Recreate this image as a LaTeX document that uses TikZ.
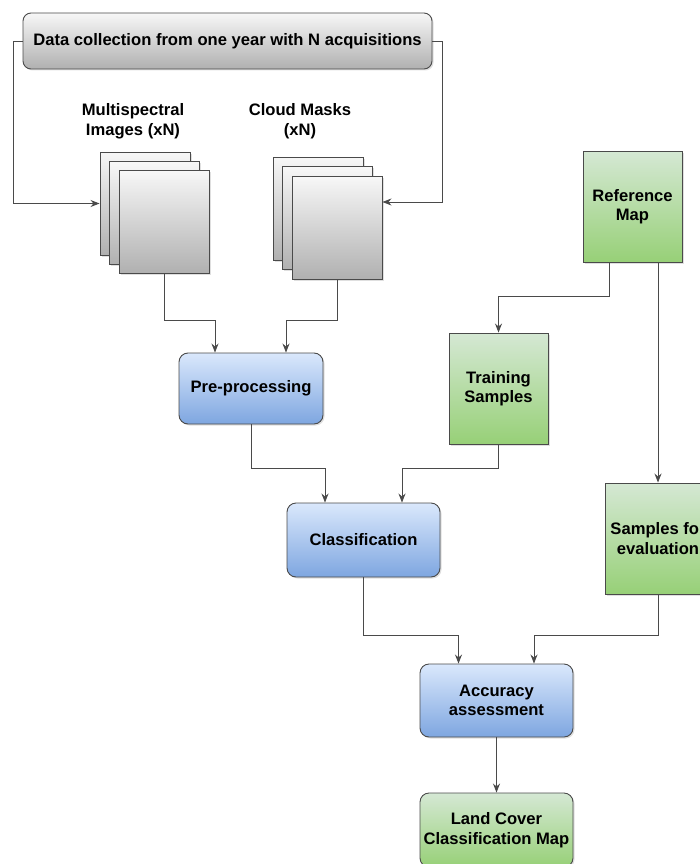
\documentclass[tikz,border=0pt]{standalone}
\usepackage{fontspec}
\setmainfont{Liberation Sans}
\usetikzlibrary{arrows.meta,shadows}

\definecolor{grayTop}{HTML}{F7F7F7}
\definecolor{grayBot}{HTML}{B0B0B0}
\definecolor{blueTop}{HTML}{DAE8FC}
\definecolor{blueBot}{HTML}{7EA6E0}
\definecolor{greenTop}{HTML}{D5E8D4}
\definecolor{greenBot}{HTML}{97D077}
\definecolor{edgeGray}{HTML}{4A4A4A}

\tikzset{
  box/.style={draw=edgeGray, line width=0.9pt, align=center, inner sep=2pt,
    font=\fontsize{16.6}{19.5}\selectfont\bfseries,
    drop shadow={shadow xshift=1.5pt, shadow yshift=-1.5pt, opacity=0.25}},
  graybox/.style={box, top color=grayTop, bottom color=grayBot},
  bluebox/.style={box, rounded corners=9pt, top color=blueTop, bottom color=blueBot},
  greenbox/.style={box, top color=greenTop, bottom color=greenBot},
  arr/.style={draw=edgeGray, line width=0.9pt, -{Stealth[length=9pt,width=7pt]}},
  lbl/.style={align=center, font=\fontsize{16.6}{20}\selectfont\bfseries}
}

\begin{document}
\begin{tikzpicture}[x=1pt,y=-1pt]
    \clip (0,0) rectangle (700,864);

    \node[graybox,rounded corners=8pt,minimum width=409,minimum height=56] (data) at (227.5,41) {Data collection from one year with N acquisitions};

    \node[lbl] (msL) at (133,121) {Multispectral\\Images (xN)};
    \node[lbl] (cmL) at (300,121) {Cloud Masks\\(xN)};

    \begin{scope}[every node/.style={graybox,minimum width=90,minimum height=103}]
      \node (ms1) at (145  ,203.5) {};
      \node (ms2) at (154  ,213  ) {};
      \node (ms3) at (164  ,222  ) {};
      \node (cm1) at (318.5,208.5) {};
      \node (cm2) at (327.5,218  ) {};
      \node (cm3) at (337  ,228  ) {};
    \end{scope}

    \node[bluebox,minimum width=144,minimum height=71] (pre) at (251  ,388.5) {Pre-processing};
    \node[bluebox,minimum width=153,minimum height=74] (cls) at (363.5,540  ) {Classification};
    \node[bluebox,minimum width=153,minimum height=73] (acc) at (496.5,700.5) {Accuracy\\assessment};

    \node[greenbox,minimum width=99 ,minimum height=111] (ref)   at (632.5,206.5) {Reference\\Map};
    \node[greenbox,minimum width=99 ,minimum height=111] (train) at (498.5,388.5) {Training\\Samples};
    \node[greenbox,minimum width=106,minimum height=111] (eval)  at (658  ,538.5) {Samples for\\evaluation};
    \node[greenbox,rounded corners=9pt,minimum width=153,minimum height=74] (land) at (496.5,830) {Land Cover\\Classification Map};

    \draw[arr] (data.west) -- ++(-9,0)  |- (ms1.west);
    \draw[arr] (data.east) -- ++(10,0)  |- ([yshift=26pt]cm3.east);

    \draw[arr] (ms3.south) -- ++(0,46) -| ([xshift=-36pt]pre.north);
    \draw[arr] (cm3.south) -- ++(0,40) -| ([xshift=35pt]pre.north);

    \draw[arr] (pre.south)   -- ++(0,44) -| ([xshift=-38.5pt]cls.north);
    \draw[arr] (train.south) -- ++(0,24) -| ([xshift=38.5pt]cls.north);

    \draw[arr] ([xshift=-23.5pt]ref.south) -- ++(0,34) -| (train.north);
    \draw[arr] ([xshift=25.5pt]ref.south)  -- (eval.north);

    \draw[arr] (cls.south)  -- ++(0,58) -| ([xshift=-38pt]acc.north);
    \draw[arr] (eval.south) -- ++(0,41) -| ([xshift=37.5pt]acc.north);

    \draw[arr] (acc.south) -- (land.north);
\end{tikzpicture}
\end{document}
